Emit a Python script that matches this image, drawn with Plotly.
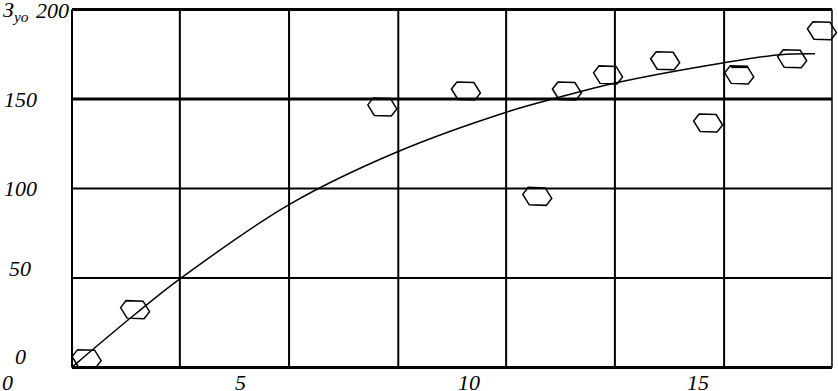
import plotly.graph_objects as go

# ---- data ----
x_ticks = [0, 5, 10, 15]
x_tick_labels = ["0", "5", "10", "15"]
y_ticks = [0, 50, 100, 150, 200]
y_tick_labels = ["0", "50", "100", "150", "200"]
x_grid = [1.31, 3.67, 6.06, 8.45, 10.81, 13.19, 15.58, 17.94]
y_axis_title = "З<sub>уо</sub>"

curve_x = [1.33, 2.69, 3.70, 6.06, 8.42, 10.83, 11.93, 13.22, 15.58, 16.81, 17.57]
curve_y = [0.6, 29.7, 50.0, 91.0, 120.4, 142.8, 150.7, 159.1, 170.3, 174.8, 175.3]

points_x = [1.63, 2.69, 8.10, 9.93, 11.49, 12.14, 13.04, 14.29, 15.23, 15.91, 17.07, 17.72]
points_y = [4.9, 32.3, 145.6, 154.5, 95.6, 154.5, 163.5, 171.4, 136.6, 163.5, 172.5, 188.2]

# ---- styling ----
FONT = dict(family="Liberation Serif", size=22, color="black", style="italic")
h_widths = {0: 3, 50: 2, 100: 2, 150: 3, 200: 3}

fig = go.Figure()

fig.add_trace(go.Scatter(
    x=curve_x, y=curve_y, mode="lines",
    line=dict(color="black", width=1.5, shape="spline", smoothing=1.0),
    hoverinfo="skip", showlegend=False))

# point trace used for hover; the visible glyphs are the elongated hexagon shapes below
fig.add_trace(go.Scatter(
    x=points_x, y=points_y, mode="markers",
    marker=dict(size=1, color="rgba(0,0,0,0)"), showlegend=False))

shapes = []
for yv in y_ticks:
    shapes.append(dict(type="line", xref="x", yref="y", x0=x_grid[0], x1=x_grid[-1],
                       y0=yv, y1=yv, line=dict(color="black", width=h_widths[yv]), layer="below"))
for i, xv in enumerate(x_grid):
    w = 1.5 if i == len(x_grid) - 1 else 2
    shapes.append(dict(type="line", xref="x", yref="y", x0=xv, x1=xv,
                       y0=y_ticks[0], y1=y_ticks[-1], line=dict(color="black", width=w), layer="below"))

hex_path = "M-14.5,2 L-9,9 L8,8.5 L14.5,-2 L9,-9 L-8,-8.5 Z"
for px, py in zip(points_x, points_y):
    shapes.append(dict(type="path", xref="x", yref="y", xsizemode="pixel", ysizemode="pixel",
                       xanchor=px, yanchor=py, path=hex_path,
                       line=dict(color="black", width=1.5), fillcolor="rgba(0,0,0,0)"))
# small stroke drawn over the top of the tenth marker in the original
shapes.append(dict(type="path", xref="x", yref="y", xsizemode="pixel", ysizemode="pixel",
                   xanchor=points_x[9], yanchor=points_y[9], path="M-8,8 L9,8",
                   line=dict(color="black", width=2.5)))

annotations = []
y_label_shift = {0: 11, 50: 9, 100: 0, 150: 0, 200: -1}
for yv, lab in zip(y_ticks, y_tick_labels):
    xs = 40 if yv == 200 else 8
    annotations.append(dict(xref="x", yref="y", x=0, y=yv, text=lab, showarrow=False,
                            xanchor="center", yanchor="middle", xshift=xs,
                            yshift=y_label_shift[yv], font=FONT))
annotations.append(dict(xref="x", yref="y", x=0, y=200, text=y_axis_title, showarrow=False,
                        xanchor="left", yanchor="middle", xshift=-11, yshift=-1, font=FONT))
for xv, lab in zip(x_ticks, x_tick_labels):
    annotations.append(dict(xref="x", yref="paper", x=xv, y=0, text=lab, showarrow=False,
                            xanchor="center", yanchor="middle", xshift=(-5 if xv == 0 else 0),
                            yshift=-11, font=FONT))

fig.update_layout(
    width=838, height=391, autosize=False,
    margin=dict(l=2.86, r=0.97, t=6.43, b=20.43, pad=0, autoexpand=False),
    paper_bgcolor="white", plot_bgcolor="white",
    showlegend=False,
    shapes=shapes, annotations=annotations,
    xaxis=dict(range=[-0.2, 18.05], tickvals=x_ticks, showticklabels=False,
               showgrid=False, zeroline=False, showline=False, automargin=False, ticks=""),
    yaxis=dict(range=[-2, 202], showgrid=False, zeroline=False, showline=False,
               showticklabels=False, ticks="", automargin=False),
)

fig.write_html(
    "out.html",
    config={"responsive": False, "displayModeBar": False},
    post_script="document.body.style.margin='0';document.body.style.overflow='hidden';"
                "Plotly.relayout(document.getElementById('{plot_id}'),{width:838,height:391});",
)
